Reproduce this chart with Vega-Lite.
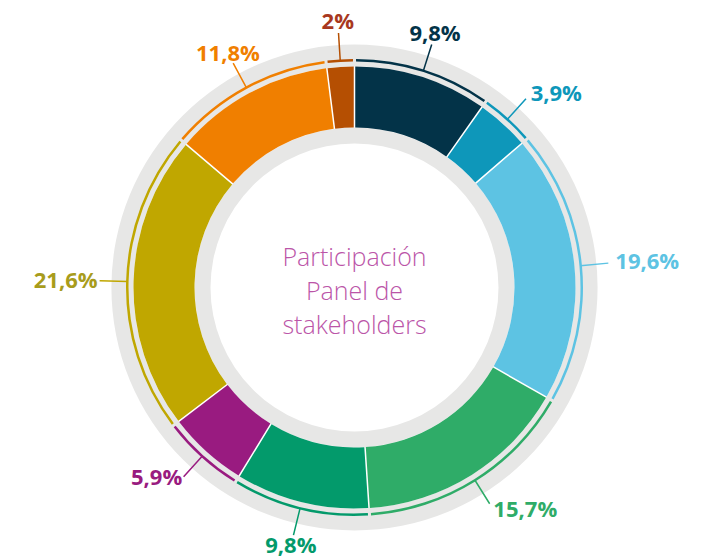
{
  "$schema": "https://vega.github.io/schema/vega-lite/v6.json",
  "autosize": {"type": "none"},
  "width": 709,
  "height": 541,
  "padding": {"top": 17, "left": 0, "right": 0, "bottom": 0},
  "background": "#ffffff",
  "config": {"view": {"stroke": null}},
  "datasets": {
    "segmentos": [
      {"n": 1, "seg": "s1", "valor": 9.8, "etiqueta": "9,8%"},
      {"n": 2, "seg": "s2", "valor": 3.9, "etiqueta": "3,9%"},
      {"n": 3, "seg": "s3", "valor": 19.6, "etiqueta": "19,6%"},
      {"n": 4, "seg": "s4", "valor": 15.7, "etiqueta": "15,7%"},
      {"n": 5, "seg": "s5", "valor": 9.8, "etiqueta": "9,8%"},
      {"n": 6, "seg": "s6", "valor": 5.9, "etiqueta": "5,9%"},
      {"n": 7, "seg": "s7", "valor": 21.6, "etiqueta": "21,6%"},
      {"n": 8, "seg": "s8", "valor": 11.8, "etiqueta": "11,8%"},
      {"n": 9, "seg": "s9", "valor": 2, "etiqueta": "2%"}
    ]
  },
  "data": {"name": "segmentos"},
  "layer": [
    {
      "data": {"values": [{"anillo": "fondo"}]},
      "mark": {"type": "arc", "outerRadius": 243, "innerRadius": 144, "fill": "#e7e7e6"},
      "encoding": {"theta": {"value": 0}, "theta2": {"value": 6.2832}}
    },
    {
      "data": {"values": [{"anillo": "base"}]},
      "mark": {"type": "arc", "outerRadius": 221, "innerRadius": 160, "fill": "#ffffff"},
      "encoding": {"theta": {"value": 0}, "theta2": {"value": 6.2832}}
    },
    {
      "mark": {"type": "arc", "outerRadius": 221, "innerRadius": 160, "padAngle": 0.0055},
      "encoding": {
        "theta": {"field": "valor", "type": "quantitative", "stack": true},
        "order": {"field": "n", "type": "quantitative"},
        "fill": {
          "field": "seg", "type": "nominal", "legend": null,
          "scale": {
            "domain": ["s1", "s2", "s3", "s4", "s5", "s6", "s7", "s8", "s9"],
            "range": ["#033348", "#0e97ba", "#5dc3e3", "#2fac68", "#039a6b", "#991b80", "#c0a700", "#f07f00", "#b54f02"]
          }
        }
      }
    },
    {
      "mark": {"type": "arc", "outerRadius": 228.5, "innerRadius": 226, "padAngle": 0.0095},
      "encoding": {
        "theta": {"field": "valor", "type": "quantitative", "stack": true},
        "order": {"field": "n", "type": "quantitative"},
        "fill": {"field": "seg", "type": "nominal", "legend": null}
      }
    },
    {
      "mark": {"type": "arc", "outerRadius": 255, "innerRadius": 227, "padAngle": 3, "filled": false, "strokeWidth": 1.5},
      "encoding": {
        "theta": {"field": "valor", "type": "quantitative", "stack": true},
        "order": {"field": "n", "type": "quantitative"},
        "stroke": {
          "field": "seg", "type": "nominal", "legend": null,
          "scale": {
            "domain": ["s1", "s2", "s3", "s4", "s5", "s6", "s7", "s8", "s9"],
            "range": ["#033348", "#0e97ba", "#5dc3e3", "#2fac68", "#039a6b", "#991b80", "#c0a700", "#f07f00", "#b54f02"]
          }
        }
      }
    },
    {
      "mark": {"type": "text", "align": "center", "baseline": "middle", "font": "Open Sans", "fontSize": 22, "fontWeight": "bold"},
      "encoding": {
        "theta": {"field": "valor", "type": "quantitative", "stack": true},
        "order": {"field": "n", "type": "quantitative"},
        "radius": {"value": 266},
        "text": {"field": "etiqueta"},
        "color": {
          "field": "seg", "type": "nominal", "legend": null,
          "scale": {
            "domain": ["s1", "s2", "s3", "s4", "s5", "s6", "s7", "s8", "s9"],
            "range": ["#033348", "#0e97ba", "#5dc3e3", "#2fac68", "#039a6b", "#991b80", "#a89c1c", "#f07f00", "#a8381e"]
          }
        },
        "opacity": {"condition": {"test": "indexof(['s1','s5','s8','s9'], datum.seg) >= 0", "value": 1}, "value": 0}
      }
    },
    {
      "mark": {"type": "text", "align": "left", "baseline": "middle", "font": "Open Sans", "fontSize": 22, "fontWeight": "bold"},
      "encoding": {
        "theta": {"field": "valor", "type": "quantitative", "stack": true},
        "order": {"field": "n", "type": "quantitative"},
        "radius": {"value": 262},
        "text": {"field": "etiqueta"},
        "color": {"field": "seg", "type": "nominal", "legend": null},
        "opacity": {"condition": {"test": "indexof(['s2','s3','s4'], datum.seg) >= 0", "value": 1}, "value": 0}
      }
    },
    {
      "mark": {"type": "text", "align": "right", "baseline": "middle", "font": "Open Sans", "fontSize": 22, "fontWeight": "bold"},
      "encoding": {
        "theta": {"field": "valor", "type": "quantitative", "stack": true},
        "order": {"field": "n", "type": "quantitative"},
        "radius": {"value": 257},
        "text": {"field": "etiqueta"},
        "color": {"field": "seg", "type": "nominal", "legend": null},
        "opacity": {"condition": {"test": "indexof(['s6','s7'], datum.seg) >= 0", "value": 1}, "value": 0}
      }
    },
    {
      "data": {"values": [{"titulo": "Participación\nPanel de\nstakeholders"}]},
      "mark": {"type": "text", "lineBreak": "\n", "align": "center", "baseline": "middle", "font": "Open Sans", "fontSize": 25, "fontWeight": 300, "lineHeight": 34, "color": "#bb55a8", "dy": -30},
      "encoding": {"text": {"field": "titulo"}}
    }
  ]
}
